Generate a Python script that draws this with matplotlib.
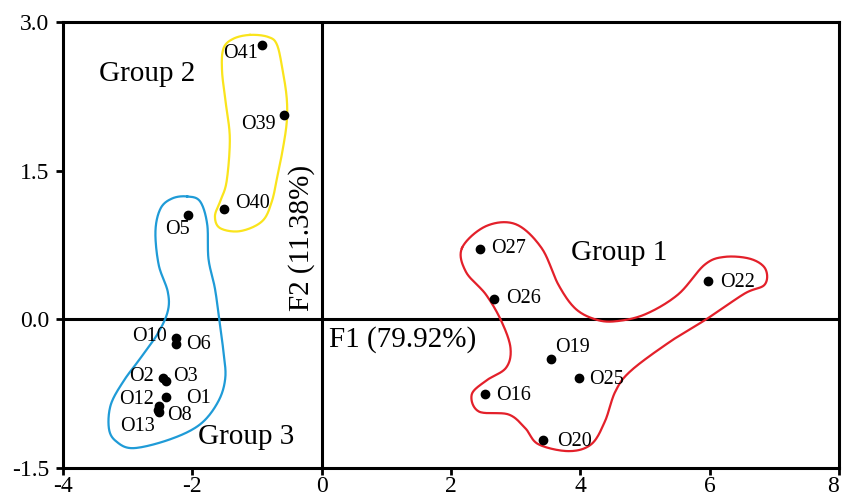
import numpy as np
import matplotlib
matplotlib.use("Agg")
import matplotlib.pyplot as plt

# Sample scores on the first two factors
samples = ['O41', 'O39', 'O40', 'O5', 'O10', 'O6', 'O2', 'O3', 'O1', 'O12', 'O8', 'O13',
           'O27', 'O26', 'O22', 'O19', 'O25', 'O16', 'O20']
f1 = [-0.92, -0.58, -1.51, -2.06, -2.26, -2.25, -2.46, -2.40, -2.40, -2.51, -2.52, -2.53,
      2.45, 2.66, 5.97, 3.55, 3.98, 2.52, 3.42]
f2 = [2.77, 2.06, 1.11, 1.05, -0.19, -0.25, -0.59, -0.62, -0.78, -0.87, -0.94, -0.91,
      0.71, 0.21, 0.39, -0.40, -0.59, -0.75, -1.22]

# Label placement for each sample: (dx, dy) in points and horizontal alignment
label_offsets = [(-3, -6, 'right'), (-6, -7, 'right'), (8, 4, 'left'), (1, -10, 'right'),
                 (-6, 1, 'right'), (7, 0, 'left'), (-6, 1, 'right'), (5, 3, 'left'),
                 (14, -1, 'left'), (-4, 4, 'right'), (6, -2, 'left'), (-2, -12, 'right'),
                 (8, 0, 'left'), (9, 0, 'left'), (9, -1, 'left'), (3, 8, 'left'),
                 (7, -1, 'left'), (8, -1, 'left'), (10, -1, 'left')]

# Outline control points of the three groups (data coordinates)
group1_x = [2.17, 2.54, 3.00, 3.40, 3.66, 3.92, 4.23, 4.54, 5.00, 5.51, 5.92, 6.23, 6.63,
            6.86, 6.85, 6.54, 5.97, 5.40, 4.78, 4.54, 4.38, 4.17, 3.82, 3.35, 3.15, 2.89,
            2.43, 2.32, 2.54, 2.85, 2.92, 2.78, 2.54, 2.23]
group1_y = [0.72, 0.94, 0.96, 0.72, 0.35, 0.11, 0.0, -0.02, 0.05, 0.25, 0.55, 0.63, 0.61,
            0.51, 0.35, 0.26, 0.01, -0.22, -0.52, -0.73, -1.03, -1.26, -1.33, -1.26, -1.10,
            -0.96, -0.93, -0.76, -0.62, -0.49, -0.29, -0.02, 0.25, 0.48]
group2_x = [-1.11, -0.83, -0.69, -0.60, -0.54, -0.54, -0.60, -0.68, -0.77, -0.92, -1.26,
            -1.57, -1.65, -1.57, -1.47, -1.42, -1.48, -1.54, -1.52, -1.37]
group2_y = [2.87, 2.85, 2.77, 2.50, 2.23, 1.99, 1.72, 1.46, 1.19, 0.99, 0.89, 0.92, 1.04,
            1.19, 1.39, 1.82, 2.17, 2.50, 2.73, 2.83]
group3_x = [-2.08, -1.88, -1.77, -1.75, -1.65, -1.58, -1.52, -1.49, -1.60, -1.88, -2.34,
            -2.91, -3.18, -3.29, -3.26, -3.06, -2.80, -2.54, -2.38, -2.38, -2.52, -2.57,
            -2.49, -2.31]
group3_y = [1.24, 1.19, 0.96, 0.61, 0.31, -0.02, -0.32, -0.59, -0.83, -1.06, -1.21, -1.30,
            -1.23, -1.10, -0.86, -0.62, -0.39, -0.15, 0.08, 0.28, 0.55, 0.89, 1.12, 1.22]

x_ticks = [-4, -2, 0, 2, 4, 6, 8]
y_ticks = [-1.5, 0.0, 1.5, 3.0]


def closed_spline(xs, ys, n=20):
    """Smooth closed Catmull-Rom curve through the control points."""
    pts = np.column_stack([xs, ys])
    m = len(pts)
    t = np.linspace(0, 1, n, endpoint=False)[:, None]
    out = []
    for i in range(m):
        p0, p1, p2, p3 = pts[i - 1], pts[i], pts[(i + 1) % m], pts[(i + 2) % m]
        seg = 0.5 * ((2 * p1) + (-p0 + p2) * t
                     + (2 * p0 - 5 * p1 + 4 * p2 - p3) * t ** 2
                     + (-p0 + 3 * p1 - 3 * p2 + p3) * t ** 3)
        out.append(seg)
    out.append(pts[:1])
    curve = np.vstack(out)
    return curve[:, 0], curve[:, 1]


plt.rcParams['font.family'] = ['Liberation Serif', 'DejaVu Serif']

fig = plt.figure(figsize=(8.43, 4.97), dpi=100)
ax = fig.add_axes([0.0747, 0.0584, 0.9953 - 0.0747, 0.9557 - 0.0584])

# Group outlines
for gx, gy, color in [(group1_x, group1_y, '#e3202a'),
                      (group2_x, group2_y, '#fae41c'),
                      (group3_x, group3_y, '#1f9bd7')]:
    cx, cy = closed_spline(gx, gy)
    ax.plot(cx, cy, color=color, linewidth=1.6, zorder=2)

# Axes through the origin
ax.axhline(0, color='black', linewidth=2.2, zorder=1)
ax.axvline(0, color='black', linewidth=2.2, zorder=1)

ax.scatter(f1, f2, s=36, color='black', zorder=3)
for name, x, y, (dx, dy, ha) in zip(samples, f1, f2, label_offsets):
    ax.annotate(name, (x, y), xytext=(dx, dy), textcoords='offset points',
                ha=ha, va='center', fontsize=14.5)

ax.text(-2.7, 2.48, 'Group 2', fontsize=21, ha='center', va='center')
ax.text(4.6, 0.67, 'Group 1', fontsize=21, ha='center', va='center')
ax.text(-1.17, -1.19, 'Group 3', fontsize=21, ha='center', va='center')
ax.text(0.12, -0.20, 'F1 (79.92%)', fontsize=21, ha='left', va='center')
ax.text(-0.31, 0.08, 'F2 (11.38%)', fontsize=21, ha='center', va='bottom',
        rotation=90)

ax.set_xlim(-4, 8)
ax.set_ylim(-1.5, 3.0)
ax.set_xticks(x_ticks)
ax.set_yticks(y_ticks)
ax.set_xticklabels([str(v) for v in x_ticks])
ax.set_yticklabels(['%.1f' % v for v in y_ticks])
ax.tick_params(direction='out', length=5, width=2, labelsize=17, pad=5)
ax.tick_params(axis='x', pad=1)
# keep the last x label inside the figure
ax.get_xticklabels()[-1].set_horizontalalignment('right')
for spine in ax.spines.values():
    spine.set_linewidth(2.2)

fig.savefig('out.png', dpi=100)
